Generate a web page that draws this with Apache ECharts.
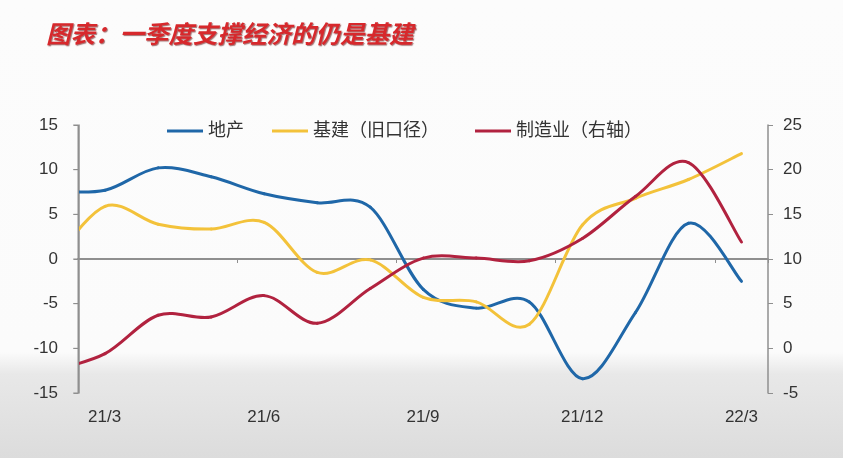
<!DOCTYPE html>
<html>
<head>
<meta charset="utf-8">
<script src="https://cdn.jsdelivr.net/npm/echarts@6/dist/echarts.min.js"></script>
<style>
html,body{margin:0;padding:0;}
#chart{width:843px;height:458px;background:linear-gradient(to bottom,#fcfcfc 0px,#fbfbfb 352px,#e8e8e8 374px,#dcdcdc 458px);}
</style>
</head>
<body>
<div id="chart"></div>
<script>
// months: first (21/2) lies left of the plot and is clipped at the axis
const months = ['21/2','21/3','21/4','21/5','21/6','21/7','21/8','21/9','21/10','21/11','21/12','22/1','22/2','22/3'];
const axisCategories = ['21/3','21/4','21/5','21/6','21/7','21/8','21/9','21/10','21/11','21/12','22/1','22/2','22/3'];
const realEstate = [7.6, 7.7, 10.2, 9.2, 7.3, 6.3, 5.8, -3.4, -5.5, -4.8, -13.4, -6.0, 4.0, -2.5];
const infra = [-0.5, 5.9, 3.9, 3.35, 4.1, -1.5, -0.1, -4.3, -4.8, -7.3, 3.8, 6.8, 8.9, 11.8];
const manufacturing = [-2.5, -0.6, 3.7, 3.5, 5.9, 2.8, 6.7, 10.1, 10.1, 9.8, 12.3, 17.0, 20.8, 11.9];
const leftTicks = [-15, -10, -5, 0, 5, 10, 15];
const rightTicks = [-5, 0, 5, 10, 15, 20, 25];

const seriesNames = ['地产', '基建（旧口径）', '制造业（右轴）'];
const colors = ['#1f67a8', '#f3c23a', '#b1223f'];

// x position: month centre, 21/3 = 0.5 ... 22/3 = 12.5 (21/2 = -0.5, clipped)
function xPos(i){ return i - 0.5; }
function pairs(vals){ return vals.map((v,i)=>[xPos(i), v]); }

// Catmull-Rom style smoothed segment drawn through the chart's own coordinate system
function smoothRenderer(vals, color){
  return function(params, api){
    const i = params.dataIndex;
    const n = vals.length;
    if (i >= n - 1) return null;
    const pt = k => { const kk = Math.max(0, Math.min(n-1, k)); return api.coord([xPos(kk), vals[kk]]); };
    const p0 = pt(i-1), p1 = pt(i), p2 = pt(i+1), p3 = pt(i+2);
    const t = 1/6;
    return {
      type:'bezierCurve',
      shape:{
        x1:p1[0], y1:p1[1], x2:p2[0], y2:p2[1],
        cpx1:p1[0] + (p2[0]-p0[0])*t, cpy1:p1[1] + (p2[1]-p0[1])*t,
        cpx2:p2[0] - (p3[0]-p1[0])*t, cpy2:p2[1] - (p3[1]-p1[1])*t
      },
      style:{stroke:color, lineWidth:3, fill:null, lineCap:'round'},
      silent:true
    };
  };
}

const chart = echarts.init(document.getElementById('chart'), null, {renderer:'canvas'});
const numFont = 'Liberation Sans, Arial, sans-serif';
const cjkFont = 'Liberation Sans, Noto Sans CJK SC, sans-serif';
const axisGray = '#8f8f8f';

function legendFor(name, left){
  return {
    data:[name], left:left, top:122, padding:0, itemWidth:36, itemHeight:3, icon:'rect', itemGap:0,
    textStyle:{fontSize:18, color:'#333', fontFamily:cjkFont}
  };
}

function makeSeries(idx, vals, yAxisIndex){
  return {
    name:seriesNames[idx], type:'custom', xAxisIndex:0, yAxisIndex:yAxisIndex,
    data:pairs(vals), clip:true, color:colors[idx], itemStyle:{color:colors[idx]},
    encode:{x:0, y:1},
    renderItem:smoothRenderer(vals, colors[idx])
  };
}

chart.setOption({
  animation:false,
  title:{
    text:'图表：一季度支撑经济的仍是基建',
    left:46, top:21, padding:0,
    textStyle:{
      color:'#d7282c', fontSize:24.5, fontWeight:'bold', fontStyle:'italic',
      fontFamily:'Noto Sans CJK SC, sans-serif',
      textShadowColor:'rgba(90,0,0,0.55)', textShadowBlur:1, textShadowOffsetX:1, textShadowOffsetY:1
    }
  },
  legend:[legendFor(seriesNames[0],167), legendFor(seriesNames[1],272), legendFor(seriesNames[2],475)],
  grid:{left:78, right:75, top:125, bottom:65},
  xAxis:[
    {type:'value', min:-0.01, max:13, show:false},
    {type:'category', data:axisCategories, boundaryGap:true, position:'bottom',
     axisLine:{show:false, onZero:false}, axisTick:{show:false},
     axisLabel:{interval:2, margin:16, fontSize:17, color:'#333', fontFamily:numFont}},
    {type:'category', data:axisCategories, boundaryGap:true, position:'bottom',
     axisLine:{show:true, onZero:true, onZeroAxisIndex:0, lineStyle:{color:axisGray, width:2}},
     axisTick:{show:true, interval:2, length:4, lineStyle:{color:axisGray, width:1}},
     axisLabel:{show:false}, splitLine:{show:false}}
  ],
  yAxis:[
    {type:'value', min:leftTicks[0], max:leftTicks[leftTicks.length-1], interval:5, position:'left',
     axisLine:{show:true, onZero:true, onZeroAxisIndex:0, lineStyle:{color:axisGray, width:1.5}},
     axisTick:{show:true, length:5, lineStyle:{color:axisGray}},
     splitLine:{show:false},
     axisLabel:{margin:20, fontSize:17, color:'#333', fontFamily:numFont}},
    {type:'value', min:rightTicks[0], max:rightTicks[rightTicks.length-1], interval:5, position:'right',
     axisLine:{show:true, onZero:false, lineStyle:{color:axisGray, width:1.5}},
     axisTick:{show:true, length:5, lineStyle:{color:axisGray}},
     splitLine:{show:false},
     axisLabel:{margin:15, fontSize:17, color:'#333', fontFamily:numFont}}
  ],
  series:[
    makeSeries(0, realEstate, 0),
    makeSeries(1, infra, 0),
    makeSeries(2, manufacturing, 1)
  ]
});

// Left value-axis line and ticks, placed through the chart's own axis conversion
try {
  const top = chart.convertToPixel({xAxisIndex:0, yAxisIndex:0}, [0, leftTicks[leftTicks.length-1]]);
  const bot = chart.convertToPixel({xAxisIndex:0, yAxisIndex:0}, [0, leftTicks[0]]);
  const xLeft = Math.round(chart.convertToPixel({xAxisIndex:0}, -0.01)) + 0.25;
  const els = [{type:'line', z:100, silent:true,
    shape:{x1:xLeft, y1:top[1], x2:xLeft, y2:bot[1]},
    style:{stroke:axisGray, lineWidth:1.5}}];
  leftTicks.forEach(v => {
    const y = chart.convertToPixel({yAxisIndex:0}, v);
    els.push({type:'line', z:100, silent:true,
      shape:{x1:xLeft-5, y1:y, x2:xLeft, y2:y},
      style:{stroke:axisGray, lineWidth:1}});
  });
  chart.setOption({graphic:{elements:els}});
} catch (e) {}
</script>
</body>
</html>
